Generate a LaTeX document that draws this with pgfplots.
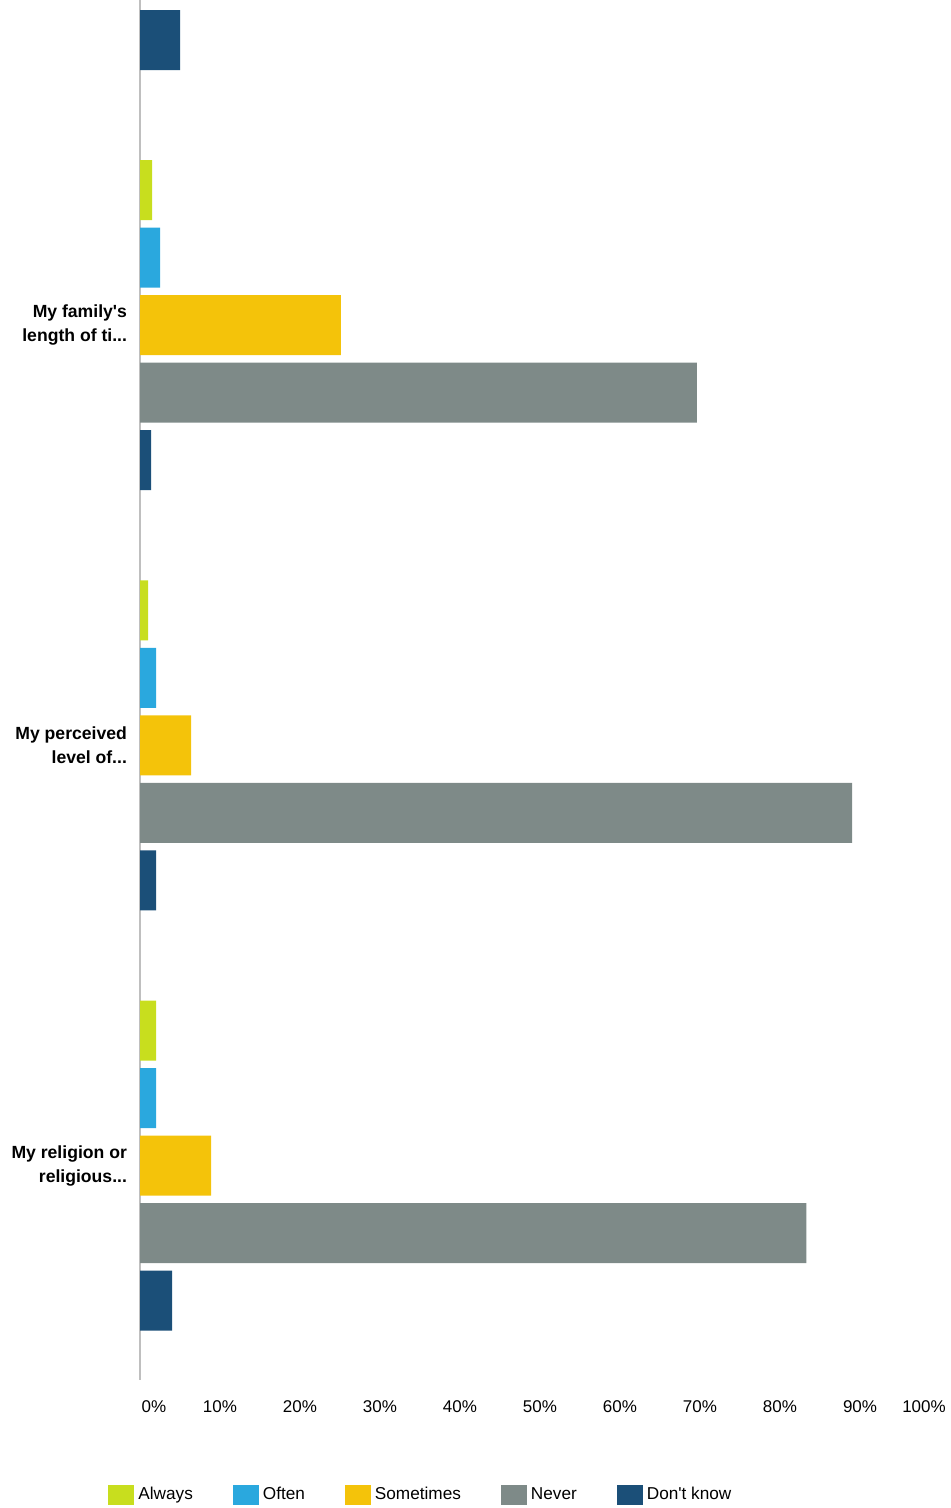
\documentclass[border=0pt]{standalone}
\usepackage{fontspec}
\setmainfont{Liberation Sans}
\usepackage{pgfplots}
\pgfplotsset{compat=1.18}
\definecolor{cAlways}{HTML}{C8DE1E}
\definecolor{cOften}{HTML}{2AA8DE}
\definecolor{cSome}{HTML}{F4C30A}
\definecolor{cNever}{HTML}{7E8A88}
\definecolor{cDK}{HTML}{1B4F78}
\newcommand{\dd}{.{}.{}.}
\begin{document}
\begin{tikzpicture}
\path[use as bounding box] (0,0) rectangle (475.5pt,754pt);
\begin{axis}[
  at={(70pt,64pt)}, anchor=south west,
  scale only axis, width=400pt, height=690pt,
  xbar, bar width=30pt,
  xmin=0, xmax=100, ymin=0.226, ymax=3.51,
  y dir=reverse,
  axis y line*=left, axis x line*=bottom,
  y axis line style={draw=black!25, line width=0.6pt, -},
  x axis line style={draw=none},
  major tick length=0pt,
  xtick={0,10,...,100},
  xticklabels={\hspace*{14pt}0\%,10\%,20\%,30\%,40\%,50\%,60\%,70\%,80\%,90\%,100\%\hspace*{16pt}},
  xticklabel style={font=\fontsize{8.5}{10}\selectfont, yshift=-7pt},
  ytick={1,2,3},
  yticklabels={{My family\textquotesingle s\\length of ti\dd}, {My perceived\\level of\dd}, {My religion or\\religious\dd}},
  yticklabel style={font=\fontsize{8.8}{12}\selectfont\bfseries, align=right, xshift=-3pt},
  legend columns=-1,
  legend style={at={(axis description cs:0,0)}, anchor=west, xshift=-19pt, yshift=-57.5pt,
    draw=none, font=\fontsize{8.6}{10}\selectfont,
    /tikz/every even column/.append style={column sep=18pt},
    legend cell align=left},
  legend image code/.code={\fill[#1] (0pt,-4.8pt) rectangle (13pt,4.8pt);},
]
\addplot[draw=none, fill=cAlways, bar shift=67.5pt] coordinates {(1.5,1) (1,2) (2,3)};
\addplot[draw=none, fill=cOften, bar shift=33.75pt] coordinates {(2.5,1) (2,2) (2,3)};
\addplot[draw=none, fill=cSome, bar shift=0pt] coordinates {(25.1,1) (6.4,2) (8.9,3)};
\addplot[draw=none, fill=cNever, bar shift=-33.75pt] coordinates {(69.6,1) (89,2) (83.3,3)};
\addplot[draw=none, fill=cDK, bar shift=-67.5pt] coordinates {(5,0) (1.4,1) (2,2) (4,3)};
\legend{Always, Often, Sometimes, Never, Don\textquotesingle t know}
\end{axis}
\end{tikzpicture}
\end{document}
